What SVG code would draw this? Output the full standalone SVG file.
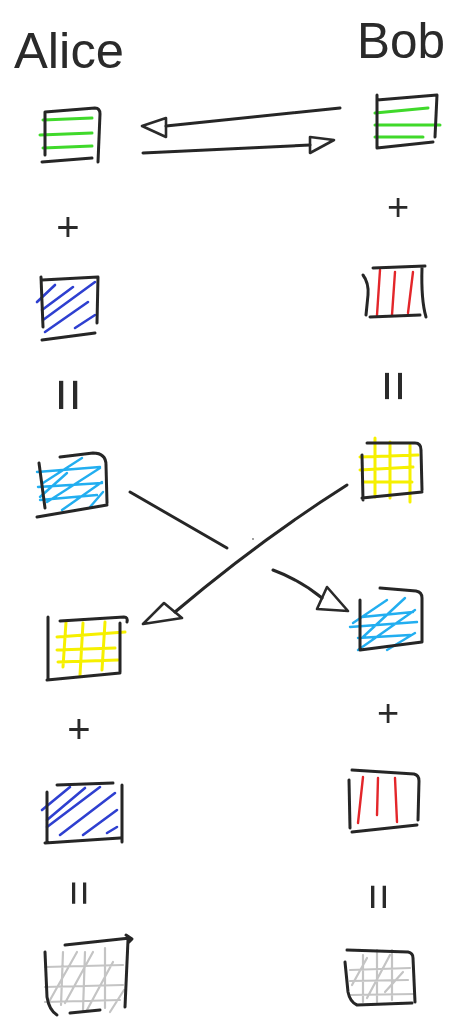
<svg xmlns="http://www.w3.org/2000/svg" width="451" height="1017" viewBox="0 0 451 1017">
<defs>
<filter id="soft" x="-5%" y="-5%" width="110%" height="110%"><feGaussianBlur stdDeviation="0.45"/></filter>
<style>
.ink{fill:none;stroke:#262626;stroke-width:3;stroke-linecap:round;stroke-linejoin:round}
.thin{fill:none;stroke:#2a2a2a;stroke-width:2.6;stroke-linecap:round;stroke-linejoin:round}
.g{fill:none;stroke:#3fd92c;stroke-width:3;stroke-linecap:round}
.b{fill:none;stroke:#2f3fd0;stroke-width:2.6;stroke-linecap:round}
.r{fill:none;stroke:#e3262a;stroke-width:2.4;stroke-linecap:round}
.c{fill:none;stroke:#22aef0;stroke-width:2.4;stroke-linecap:round}
.y{fill:none;stroke:#f6f000;stroke-width:3;stroke-linecap:round}
.k{fill:none;stroke:#c4c4c4;stroke-width:2.2;stroke-linecap:round}
.lbl{font-family:"Liberation Sans",Arial,sans-serif;fill:#2a2a2a}
.sym{font-family:"Liberation Sans",Arial,sans-serif;fill:#2a2a2a;text-anchor:middle}
</style>
</defs>
<rect width="451" height="1017" fill="#ffffff"/>
<g filter="url(#soft)">
<g id="title-alice"><text class="lbl" x="14" y="68" font-size="50" textLength="110" lengthAdjust="spacingAndGlyphs">Alice</text></g>
<g id="title-bob"><text class="lbl" x="357" y="58" font-size="50" textLength="88" lengthAdjust="spacingAndGlyphs">Bob</text></g>

<g id="alice-green">
<path class="g" d="M43,120 L92,118 M40,135 L92,133 M43,148 L92,146"/>
<path class="ink" d="M45,112 L45,155 M45,112 L95,108 Q100,108 100,114 L98,162 M42,162 L92,158"/>
</g>
<g id="bob-green">
<path class="g" d="M375,113 L428,108 M375,125 L440,125 M375,137 L423,137"/>
<path class="ink" d="M377,95 L377,148 M377,100 L437,95 L435,137 M377,148 L433,142"/>
</g>

<g id="alice-plus1"><text class="sym" x="68" y="241" font-size="40">+</text></g>
<g id="bob-plus1"><text class="sym" x="398" y="220" font-size="38">+</text></g>

<g id="alice-blue1">
<path class="b" d="M37,302 L55,285 M42,310 L73,287 M43,320 L95,282 M45,332 L88,302 M75,328 L95,315"/>
<path class="ink" d="M41,277 L43,327 M42,280 L98,277 L97,323 M42,340 L95,333"/>
</g>
<g id="bob-red1">
<path class="r" d="M380,270 L377,315 M395,272 L392,315 M413,272 L408,313"/>
<path class="ink" d="M373,268 L425,266 M363,275 Q369,283 368,295 L366,315 M422,268 Q421,300 426,317 M370,317 L420,315"/>
</g>

<g id="alice-eq1"><text class="sym" transform="translate(68,395) rotate(90)" x="0" y="19" font-size="58">=</text></g>
<g id="bob-eq1"><text class="sym" transform="translate(395,386) rotate(90)" x="0" y="19" font-size="54">=</text></g>

<g id="alice-cyan">
<path class="c" d="M37,472 L100,467 M38,487 L102,483 M40,500 L97,495 M40,497 L67,473 M43,483 L82,458 M47,502 L100,468 M62,510 L102,482 M90,507 L103,492"/>
<path class="ink" d="M39,463 L45,508 M60,457 L93,453 Q106,453 106,465 L107,503 M37,517 L107,505"/>
</g>
<g id="bob-yellow1">
<path class="y" d="M375,438 L375,497 M390,442 L390,498 M410,445 L410,502 M360,457 L418,455 M360,470 L413,467 M363,482 L412,482"/>
<path class="ink" d="M362,455 L363,500 M367,443 L415,443 Q421,443 421,450 L422,490 M362,498 L422,492"/>
</g>

<g id="alice-yellow">
<path class="y" d="M66,622 L63,667 M83,623 L80,675 M105,622 L102,670 M57,637 L125,632 M57,650 L115,648 M58,662 L118,660"/>
<path class="ink" d="M48,617 L48,680 M60,621 L124,617 Q128,617 127,622 M120,623 L120,672 M47,680 L120,673"/>
</g>
<g id="bob-cyan">
<path class="c" d="M350,627 L417,622 M358,638 L410,635 M362,617 L413,612 M353,623 L387,600 M363,637 L405,598 M358,650 L415,610 M387,650 L415,633"/>
<path class="ink" d="M360,600 L360,650 M380,588 L416,591 Q422,592 422,598 L422,642 M360,650 L422,642"/>
</g>

<g id="alice-plus2"><text class="sym" x="79" y="743" font-size="40">+</text></g>
<g id="bob-plus2"><text class="sym" x="388" y="726" font-size="38">+</text></g>

<g id="alice-blue2">
<path class="b" d="M42,810 L70,787 M47,820 L85,788 M47,827 L100,787 M60,835 L115,793 M83,835 L117,810 M107,833 L117,827"/>
<path class="ink" d="M57,785 L113,783 M47,792 L47,843 M122,785 L122,842 M45,843 L120,838"/>
</g>
<g id="bob-red2">
<path class="r" d="M363,777 L358,823 M378,778 L377,815 M395,778 L397,822"/>
<path class="ink" d="M352,770 L414,774 Q419,775 419,781 L418,820 M349,780 L350,828 M352,832 L417,825"/>
</g>

<g id="alice-eq2"><text class="sym" transform="translate(81,893) rotate(90)" x="0" y="17" font-size="44">=</text></g>
<g id="bob-eq2"><text class="sym" transform="translate(380,897) rotate(90)" x="0" y="17" font-size="46">=</text></g>

<g id="alice-grey">
<path class="k" d="M63,952 L61,1005 M85,952 L83,1010 M105,948 L105,1008 M45,967 L123,965 M45,987 L123,985 M45,1002 L120,1000 M50,1000 L77,952 M65,1003 L93,952 M87,1010 L113,962 M110,1012 L124,990"/>
<path class="ink" d="M65,945 L130,938 M126,935 L132,939 L128,943 M128,940 L125,1007 M45,952 L47,997 Q49,1010 57,1015 M70,1013 L100,1010"/>
</g>
<g id="bob-grey">
<path class="k" d="M363,955 L363,1002 M377,950 L377,1002 M392,950 L392,1000 M350,970 L410,968 M350,981 L408,980 M350,995 L415,994 M352,985 L367,958 M367,998 L390,955 M385,992 L403,972"/>
<path class="ink" d="M347,950 L408,952 Q413,953 413,958 L415,1002 M345,962 L348,992 Q350,1002 357,1005 L412,1003"/>
</g>

<g id="connectors">
<path class="ink" d="M340,108 L166,126"/>
<path class="thin" d="M166,118 L142,126 L166,137 Z"/>
<path class="ink" d="M143,153 L310,145"/>
<path class="thin" d="M310,137 L334,140 L310,153 Z"/>
<path class="ink" d="M130,492 L227,548"/>
<path class="ink" d="M273,570 Q300,580 322,598"/>
<path class="thin" d="M327,587 L348,611 L317,609 Z"/>
<path class="ink" d="M347,485 Q260,540 175,612"/>
<path class="thin" d="M164,603 L143,624 L182,618 Z"/>
<circle cx="253" cy="539" r="0.9" fill="#777"/>
</g>
</g>
</svg>
